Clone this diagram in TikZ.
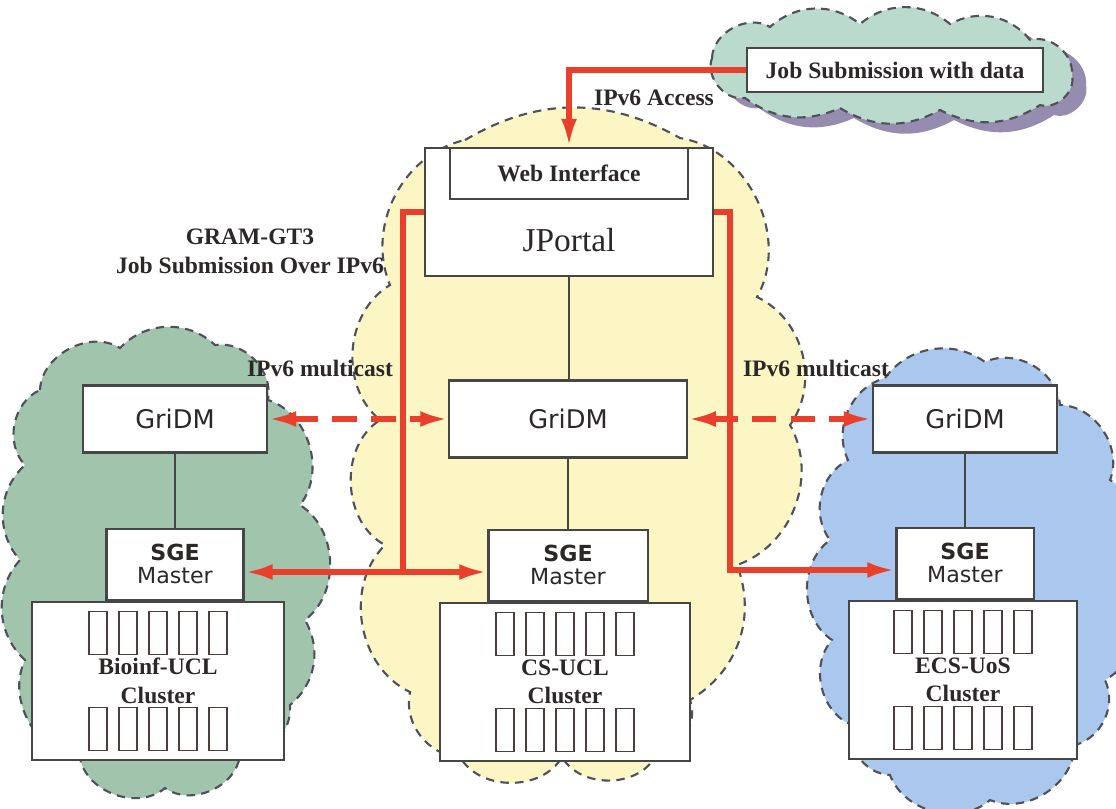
\documentclass[tikz,border=0pt]{standalone}
\usepackage{fontspec}
\setmainfont{Liberation Serif}
\newfontfamily\dejavu{DejaVu Sans}
\usetikzlibrary{arrows.meta,positioning}

\definecolor{linkred}{RGB}{233,63,43}
\definecolor{boxline}{RGB}{70,70,70}
\definecolor{cpuline}{RGB}{80,60,60}
\definecolor{textgray}{RGB}{45,40,40}
\definecolor{cloudline}{RGB}{80,80,90}
\definecolor{sage}{RGB}{160,196,172}
\definecolor{mint}{RGB}{185,218,205}
\definecolor{paleyellow}{RGB}{251,246,196}
\definecolor{skyblue}{RGB}{170,200,238}
\definecolor{shadowpurple}{RGB}{150,140,175}

\newcommand{\lblfont}{\fontsize{6.7}{8.2}\selectfont\bfseries}
\newcommand{\gridfont}{\dejavu\fontsize{7.3}{8}\selectfont}
\newcommand{\sgefont}{\dejavu\fontsize{6.3}{6.6}\selectfont}
% outline of the job submission cloud (used twice: shadow + cloud)
\newcommand{\jobcloud}{(712,58) to[bend left=60] (770,27) to[bend left=40] (860,24)
  to[bend left=40] (950,24) to[bend left=40] (1030,40) to[bend left=55] (1072,75)
  to[bend left=60] (1040,105) to[bend left=30] (940,110) to[bend left=30] (840,108)
  to[bend left=30] (745,98) to[bend left=60] (712,58) -- cycle}

\begin{document}
\begin{tikzpicture}[x=0.01cm, y=-0.01cm,
  net/.style={draw=cloudline, line width=0.6pt, dash pattern=on 2.4pt off 1.8pt},
  box/.style={draw=boxline, fill=white, line width=0.6pt, inner sep=0pt,
    align=center, text=textgray},
  gridm/.style={box, font=\gridfont, minimum width=1.84cm, minimum height=0.67cm},
  sge/.style={box, font=\sgefont, minimum width=1.37cm, minimum height=0.71cm},
  cluster/.style={box, font=\lblfont, minimum height=1.58cm},
  cpu/.style={draw=cpuline, line width=0.5pt, minimum width=0.18cm,
    minimum height=0.43cm, inner sep=0pt},
  tag/.style={font=\lblfont, text=textgray, align=center},
  wire/.style={draw=boxline, line width=0.6pt},
  link/.style={draw=linkred, line width=1.5pt},
  arr/.style={link, -{Latex[length=8pt,width=4.5pt]}},
  mcast/.style={link, dash pattern=on 7pt off 4pt,
    {Latex[length=8pt,width=4.5pt]}-{Latex[length=8pt,width=4.5pt]}}
]
\useasboundingbox[fill=white] (0,0) rectangle (1116,808);

% networks (drawn as puffy outlines)
\draw[net, fill=sage] (40,390) to[bend left=60] (120,348) to[bend left=45] (215,345)
  to[bend left=55] (268,400) to[bend left=55] (300,505) to[bend left=55] (305,620)
  to[bend left=40] (290,705) to[bend left=50] (240,755) to[bend left=60] (165,788)
  to[bend left=60] (80,758) to[bend left=55] (25,660) to[bend left=45] (20,560)
  to[bend left=45] (25,465) to[bend left=55] (40,390) -- cycle;
\draw[net, fill=paleyellow] (465,140) to[bend left=30] (680,138) to[bend left=55] (757,297)
  to[bend left=50] (790,425) to[bend left=50] (737,565) to[bend left=40] (690,700)
  to[bend left=50] (655,757) to[bend left=60] (562,757) to[bend left=60] (460,757)
  to[bend left=50] (410,692) to[bend left=55] (385,545) to[bend left=60] (380,420)
  to[bend left=55] (390,285) to[bend left=50] (465,140) -- cycle;
\draw[net, fill=skyblue] (885,378) to[bend left=45] (985,362) to[bend left=55] (1060,405)
  to[bend left=55] (1110,480) to[bend left=50] (1125,570) to[bend left=50] (1105,680)
  to[bend left=50] (1075,745) to[bend left=55] (990,800) to[bend left=55] (890,775)
  to[bend left=50] (852,725) to[bend left=55] (832,640) to[bend left=55] (830,540)
  to[bend left=50] (848,460) to[bend left=50] (885,378) -- cycle;
\fill[shadowpurple, shift={(14,10)}] \jobcloud;
\draw[net, fill=mint] \jobcloud;

% portal
\node[box, font=\lblfont, minimum width=2.96cm, minimum height=0.44cm] (job) at (895,70) {Job Submission with data};
\node[box, minimum width=2.88cm, minimum height=1.28cm] (portal) at (569,212) {};
\node[box, font=\lblfont, anchor=north, minimum width=2.37cm, minimum height=0.51cm] (web) at (portal.north) {Web Interface};
\node[text=textgray, font=\fontsize{9.5}{10}\selectfont] (jp) at (569,240) {JPortal};

% GriDM + SGE
\node[gridm, minimum width=2.37cm, minimum height=0.77cm] (gridmC) at (568,419) {GriDM};
\node[gridm] (gridmB) at (175,419) {GriDM};
\node[gridm] (gridmR) at (965,419) {GriDM};

\node[sge, below=0.7cm of gridmC, minimum width=1.59cm] (sgeC) {{\bfseries SGE}\\Master};
\node[sge, below=0.74cm of gridmB] (sgeB) {{\bfseries SGE}\\Master};
\node[sge, below=0.73cm of gridmR] (sgeR) {{\bfseries SGE}\\Master};

% clusters
\node[cluster, below=0pt of sgeB, xshift=-0.17cm, minimum width=2.52cm] (clusterB) {Bioinf-UCL\\Cluster};
\node[cluster, below=0pt of sgeC, xshift=-0.03cm, minimum width=2.5cm] (clusterC) {CS-UCL\\Cluster};
\node[cluster, below=0pt of sgeR, xshift=-0.02cm, minimum width=2.28cm] (clusterR) {ECS-UoS\\Cluster};

\foreach \c in {clusterB,clusterC,clusterR}
  \foreach \i/\dx in {1/-60,2/-30,3/0,4/30,5/60} {
    \node[cpu] (\c-top\i) at ([shift={(\dx,-48)}]\c.center) {};
    \node[cpu] (\c-bot\i) at ([shift={(\dx,48)}]\c.center) {};
  }

% black links
\draw[wire] (portal.south) -- (portal.south |- gridmC.north);
\draw[wire] (gridmC) -- (sgeC);
\draw[wire] (gridmB) -- (sgeB);
\draw[wire] (gridmR) -- (sgeR);

% red links
\coordinate (gramL) at (403,572);
\coordinate (gramR) at (730,570);
\draw[arr] (job.west) -| (portal.north);
\draw[arr] (portal.west) -| (gramL) -- (gramL -| sgeB.east);
\draw[arr] (gramL) -- (gramL -| sgeC.west);
\draw[arr] (portal.east) -| (gramR) -- (gramR -| sgeR.west);
\draw[mcast] (gridmB) -- (gridmC);
\draw[mcast] (gridmC) -- (gridmR);

% labels
\node[tag] (access) at (654,98) {IPv6 Access};
\node[tag] (gram) at (250,251) {GRAM-GT3\\Job Submission Over IPv6};
\node[tag] (mcastL) at (320,368) {IPv6 multicast};
\node[tag] (mcastR) at (816,368) {IPv6 multicast};
\end{tikzpicture}
\end{document}
